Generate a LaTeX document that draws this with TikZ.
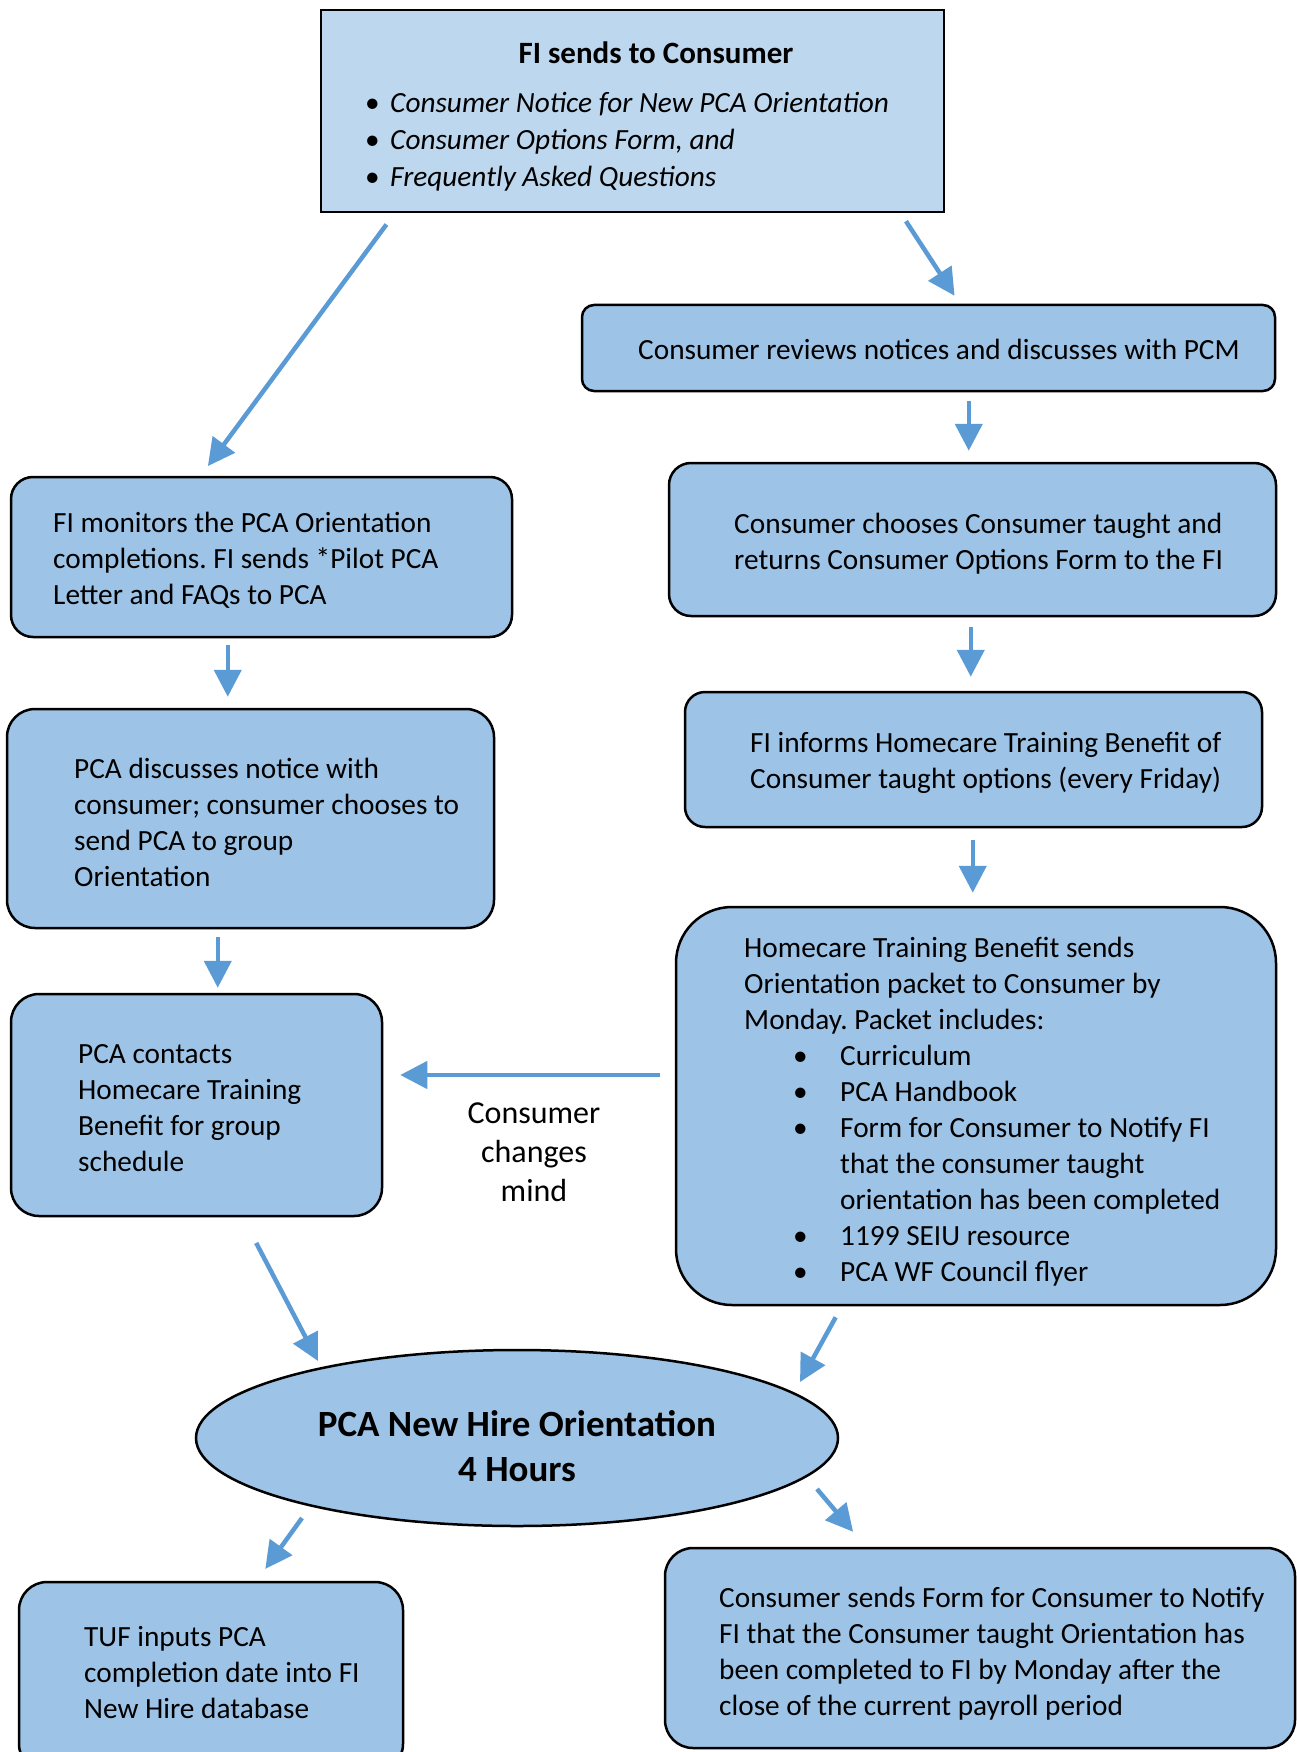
\documentclass[tikz,border=0pt]{standalone}
\usepackage{fontspec}
\setmainfont{Carlito}
\usetikzlibrary{arrows.meta,calc,shapes.geometric}
\definecolor{boxblue}{HTML}{9DC3E6}
\definecolor{topblue}{HTML}{BDD7EE}
\definecolor{arrowblue}{HTML}{5B9BD5}
\frenchspacing
\begin{document}
\begin{tikzpicture}[x=1pt,y=-1pt,
  box/.style={draw=black, line width=2.5pt, fill=boxblue, rounded corners=#1, inner sep=0pt},
  box/.default=22pt,
  txt/.style={anchor=west, align=left, inner sep=0pt, font=\fontsize{29.3}{36}\selectfont},
  arr/.style={draw=arrowblue, line width=4.5pt, -{Triangle[length=27pt,width=27pt]}}]
\useasboundingbox[fill=white] (0,0) rectangle (1296,1752);

% top box
\node[draw=black, line width=2.5pt, fill=topblue, minimum width=623pt, minimum height=202pt, inner sep=0pt] (top) at (632.5,111) {};
\node[anchor=center, inner sep=0pt, font=\fontsize{31}{37}\selectfont\bfseries] (topt) at (656,52.5) {FI sends to Consumer};
\node[txt, font=\fontsize{29.3}{37}\selectfont] (topl) at (365,141.5)
 {\makebox[25pt][l]{\textbullet}\textit{Consumer Notice for New PCA Orientation}\\
  \makebox[25pt][l]{\textbullet}\textit{Consumer Options Form, and}\\
  \makebox[25pt][l]{\textbullet}\textit{Frequently Asked Questions}};

% right column
\node[box=12pt, minimum width=693pt, minimum height=86pt] (review) at (928.5,348) {};
\node[txt] (reviewt) at (638,349) {Consumer reviews notices and discusses with PCM};

\node[box=22pt, minimum width=607pt, minimum height=153pt] (chooses) at (972.5,539.5) {};
\node[txt] (choosest) at (734,543.5) {Consumer chooses Consumer taught and\\returns Consumer Options Form to the FI};

\node[box=20pt, minimum width=577pt, minimum height=135pt] (inform) at (973.5,759.5) {};
\node[txt] (informt) at (750,762.5) {FI informs Homecare Training Benefit of\\Consumer taught options (every Friday)};

\node[box=56pt, minimum width=600pt, minimum height=398pt] (homecare) at (976,1106) {};
\node[txt] (homecaret) at (744,1111.5)
 {Homecare Training Benefit sends\\
  Orientation packet to Consumer by\\
  Monday. Packet includes:\\
  \hspace*{49pt}\makebox[47pt][l]{\textbullet}Curriculum\\
  \hspace*{49pt}\makebox[47pt][l]{\textbullet}PCA Handbook\\
  \hspace*{49pt}\makebox[47pt][l]{\textbullet}Form for Consumer to Notify FI\\
  \hspace*{96pt}that the consumer taught\\
  \hspace*{96pt}orientation has been completed\\
  \hspace*{49pt}\makebox[47pt][l]{\textbullet}1199 SEIU resource\\
  \hspace*{49pt}\makebox[47pt][l]{\textbullet}PCA WF Council flyer};

% left column
\node[box=22pt, minimum width=501pt, minimum height=160pt] (monitors) at (261.5,557) {};
\node[txt] (monitorst) at (53,560.5) {FI monitors the PCA Orientation\\completions. FI sends *Pilot PCA\\Letter and FAQs to PCA};

\node[box=28pt, minimum width=487pt, minimum height=219pt] (discusses) at (250.5,818.5) {};
\node[txt] (discussest) at (74,822) {PCA discusses notice with\\consumer; consumer chooses to\\send PCA to group\\Orientation};

\node[box=28pt, minimum width=371pt, minimum height=222pt] (contacts) at (196.5,1105) {};
\node[txt] (contactst) at (78,1108) {PCA contacts\\Homecare Training\\Benefit for group\\schedule};

\node[align=center, inner sep=0pt, font=\fontsize{32}{39}\selectfont] (cm) at (534,1152.5) {Consumer\\changes\\mind};

% ellipse
\node[ellipse, draw=black, line width=2.5pt, fill=boxblue, minimum width=642pt, minimum height=176pt, inner sep=0pt] (orient) at (517,1438) {};
\node[align=center, inner sep=0pt, font=\fontsize{37}{45}\selectfont\bfseries] (orientt) at (517,1446) {PCA New Hire Orientation\\4 Hours};

% bottom
\node[box=28pt, minimum width=384pt, minimum height=190pt] (tuf) at (211,1677) {};
\node[txt] (tuft) at (84,1672.5) {TUF inputs PCA\\completion date into FI\\New Hire database};

\node[box=28pt, minimum width=630pt, minimum height=200pt] (sends) at (980,1648) {};
\node[txt] (sendst) at (719,1653.5) {Consumer sends Form for Consumer to Notify\\FI that the Consumer taught Orientation has\\been completed to FI by Monday after the\\close of the current payroll period};

% arrows
\draw[arr, shorten <=14pt, shorten >=12pt] ([xshift=75pt]top.south west) -- ([xshift=191pt]monitors.north west);
\draw[arr, shorten <=9.5pt, shorten >=9.5pt] ([xshift=581pt]top.south west) -- ([xshift=379pt]review.north west);
\draw[arr, shorten <=9pt, shorten >=11pt] ([xshift=388pt]review.south west) -- ([xshift=301pt]chooses.north west);
\draw[arr, shorten <=10pt, shorten >=14pt] ([xshift=303pt]chooses.south west) -- ([xshift=287pt]inform.north west);
\draw[arr, shorten <=12pt, shorten >=13pt] ([xshift=289pt]inform.south west) -- ([xshift=298pt]homecare.north west);
\draw[arr, shorten <=7pt, shorten >=11pt] ([xshift=218pt]monitors.south west) -- ([xshift=222pt]discusses.north west);
\draw[arr, shorten <=8pt, shorten >=5pt] ([xshift=212pt]discusses.south west) -- ([xshift=208pt]contacts.north west);
\draw[arr, shorten <=15pt, shorten >=17pt] ([yshift=31pt]homecare.west) -- ([yshift=30pt]contacts.east);
\draw[arr, shorten <=29pt] ([xshift=233pt]contacts.south west) -- ([shift={(-199,-77)}]orient.center);
\draw[arr, shorten <=12.6pt] ([xshift=167pt]homecare.south west) -- ([shift={(283,-56)}]orient.center);
\draw[arr, shorten >=14.6pt] ([shift={(-215,80)}]orient.center) -- ([xshift=239pt]tuf.north west);
\draw[arr, shorten >=19.6pt] ([shift={(300,51)}]orient.center) -- ([xshift=202pt]sends.north west);
\end{tikzpicture}
\end{document}
